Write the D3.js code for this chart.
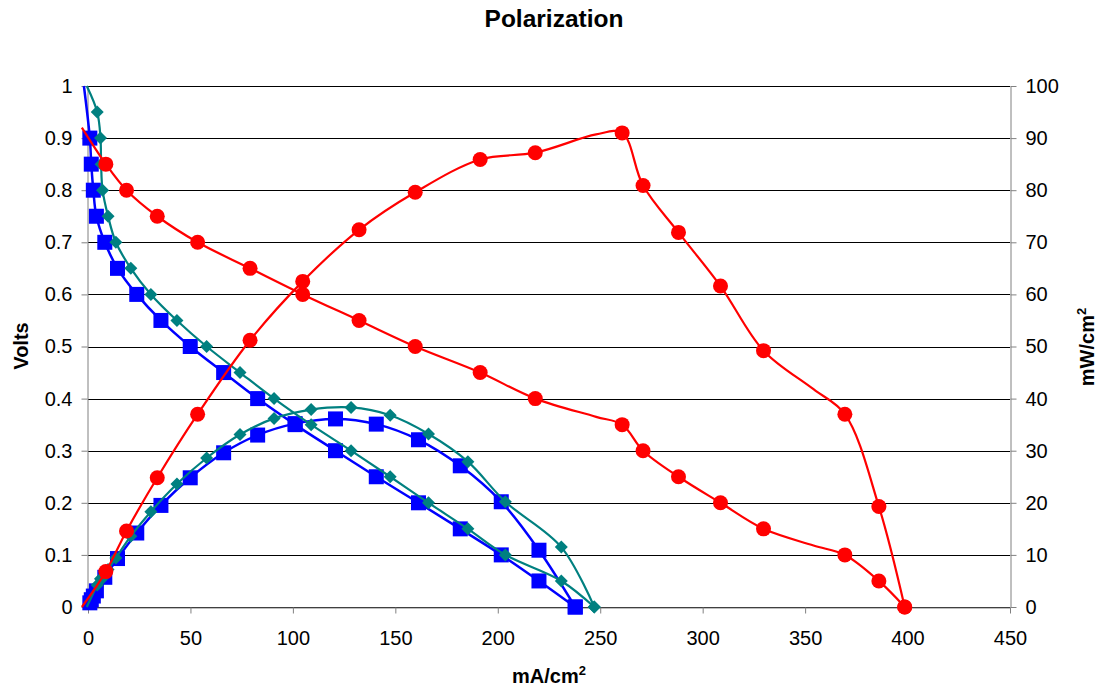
<!DOCTYPE html>
<html>
<head>
<meta charset="utf-8">
<script src="https://cdn.jsdelivr.net/npm/d3@7"></script>
<style>
  body { margin: 0; background: #fff; }
  svg { display: block; font-family: "Liberation Sans", Arial, sans-serif; }
</style>
</head>
<body>
<svg id="chart" width="1099" height="689"></svg>
<script>
// values
// blue (squares)
const blueCurrent = [-2, 0.9, 1.6, 2.6, 4.1, 8.2, 14.4, 23.8, 35.6, 49.9, 66.2, 82.8, 101.1, 120.8, 140.7, 161.3, 181.7, 201.7, 220.1, 237.8]
const blueVolts   = [1.0, 0.90, 0.85, 0.80, 0.75, 0.70, 0.65, 0.60, 0.55, 0.50, 0.45, 0.40, 0.35, 0.30, 0.25, 0.20, 0.15, 0.10, 0.05, 0]
const bluePower   = [0, 0.8, 1.4, 2.1, 3.1, 5.7, 9.3, 14.2, 19.5, 24.8, 29.6, 33.0, 35.2, 36.1, 35.1, 32.1, 27.1, 20.2, 10.9, 0]
const blueNoMarker = [0]

// teal (diamonds)
const tealCurrent = [-0.6, 4.5, 6.1, 6.4, 7.1, 9.8, 13.6, 20.9, 30.7, 43.4, 57.9, 74.2, 90.8, 108.9, 128.4, 147.5, 166.2, 185.4, 203.7, 231.0, 247.1]
const tealVolts   = [1.0, 0.95, 0.90, 0.85, 0.80, 0.75, 0.70, 0.65, 0.60, 0.55, 0.50, 0.45, 0.40, 0.35, 0.30, 0.25, 0.20, 0.15, 0.10, 0.05, 0]
const tealPower   = [0, 4.2, 5.4, 5.3, 5.6, 7.2, 9.4, 13.6, 18.3, 23.6, 28.6, 33.1, 36.2, 37.9, 38.3, 36.8, 33.2, 27.9, 20.2, 11.5, 0]
const tealNoMarker = [0]

// red (circles)
const redCurrent = [-3, 8.7, 18.8, 33.8, 53.5, 79.1, 104.8, 132.3, 159.7, 191.4, 218.3, 248, 260.7, 270.9, 288.2, 308.7, 329.7, 354.1, 369.4, 386.0, 398.6]
const redVolts   = [0.92, 0.85, 0.80, 0.75, 0.70, 0.65, 0.60, 0.55, 0.50, 0.45, 0.40, 0.365, 0.35, 0.30, 0.25, 0.20, 0.15, 0.118, 0.10, 0.05, 0]
const redPower   = [0, 6.8, 14.6, 24.8, 37.0, 51.2, 62.5, 72.4, 79.6, 85.9, 87.2, 90.7, 91.0, 80.9, 71.9, 61.6, 49.2, 41.8, 37.0, 19.3, 0]
const redNoMarker = [0, 11, 17]

// axes
const currentTicks = [0, 50, 100, 150, 200, 250, 300, 350, 400, 450]
const voltTicks = [0, 0.1, 0.2, 0.3, 0.4, 0.5, 0.6, 0.7, 0.8, 0.9, 1]
const voltLabels = ["0", "0.1", "0.2", "0.3", "0.4", "0.5", "0.6", "0.7", "0.8", "0.9", "1"]
const powerTicks = [0, 10, 20, 30, 40, 50, 60, 70, 80, 90, 100]

const chart = { left: 88, right: 1010, top: 86, bottom: 607 }

const svg = d3.select("#chart")

const x = d3.scaleLinear().domain([0, 450]).range([chart.left, chart.right])
const yV = d3.scaleLinear().domain([0, 1]).range([chart.bottom, chart.top])
const yP = d3.scaleLinear().domain([0, 100]).range([chart.bottom, chart.top])

const crisp = (v) => Math.round(v) + 0.5

// horizontal gridlines
svg.append("g")
  .selectAll("line")
  .data(voltTicks)
  .join("line")
  .attr("x1", chart.left)
  .attr("x2", chart.right)
  .attr("y1", (d) => crisp(yV(d)))
  .attr("y2", (d) => crisp(yV(d)))
  .attr("stroke", "#000")
  .attr("stroke-width", 1)

function styleAxis(g){
  g.selectAll("path.domain").attr("stroke", "#808080").attr("stroke-width", 1)
  g.selectAll(".tick line").attr("stroke", "#808080")
  g.selectAll(".tick text").attr("fill", "#000").attr("font-size", 20)
  g.attr("font-family", null)
}

svg.append("g")
  .attr("transform", `translate(${crisp(chart.left) - 1},0)`)
  .call(d3.axisLeft(yV).tickValues(voltTicks).tickSize(6).tickSizeOuter(0).tickPadding(9)
    .tickFormat((d, i) => voltLabels[i]))
  .call(styleAxis)

svg.append("g")
  .attr("transform", `translate(${crisp(chart.right)},0)`)
  .call(d3.axisRight(yP).tickValues(powerTicks).tickSize(6).tickSizeOuter(0).tickPadding(9))
  .call(styleAxis)

svg.append("g")
  .attr("transform", `translate(0,${crisp(chart.bottom)})`)
  .call(d3.axisBottom(x).tickValues(currentTicks).tickSize(6).tickSizeOuter(0).tickPadding(17))
  .call(styleAxis)

// series
const series = [
  { xs: blueCurrent, ys: blueVolts, y: yV, color: "#0000ff", shape: "square", skip: blueNoMarker, width: 2.5 },
  { xs: blueCurrent, ys: bluePower, y: yP, color: "#0000ff", shape: "square", skip: blueNoMarker, width: 2.5 },
  { xs: tealCurrent, ys: tealVolts, y: yV, color: "#008080", shape: "diamond", skip: tealNoMarker, width: 2.2 },
  { xs: tealCurrent, ys: tealPower, y: yP, color: "#008080", shape: "diamond", skip: tealNoMarker, width: 2.2 },
  { xs: redCurrent, ys: redVolts, y: yV, color: "#ff0000", shape: "circle", skip: redNoMarker, width: 2.2 },
  { xs: redCurrent, ys: redPower, y: yP, color: "#ff0000", shape: "circle", skip: redNoMarker, width: 2.2 },
]

const line = d3.line().curve(d3.curveCatmullRom.alpha(0.5))

series.forEach((s, k) => {
  const pts = s.xs.map((v, i) => [x(v), s.y(s.ys[i])])
  const g = svg.append("g").attr("class", `series${k}`)
  g.append("path")
    .attr("d", line(pts))
    .attr("fill", "none")
    .attr("stroke", s.color)
    .attr("stroke-width", s.width)
    .attr("stroke-linejoin", "round")

  const marked = pts.filter((p, i) => !s.skip.includes(i))
  if(s.shape === "square"){
    g.selectAll("rect")
      .data(marked)
      .join("rect")
      .attr("x", (d) => d[0] - 7.5)
      .attr("y", (d) => d[1] - 7.5)
      .attr("width", 15)
      .attr("height", 15)
      .attr("fill", s.color)
  }
  else if(s.shape === "diamond"){
    g.selectAll("path.marker")
      .data(marked)
      .join("path")
      .attr("class", "marker")
      .attr("d", (d) => `M${d[0]},${d[1] - 6.5}L${d[0] + 6.5},${d[1]}L${d[0]},${d[1] + 6.5}L${d[0] - 6.5},${d[1]}Z`)
      .attr("fill", s.color)
  }
  else{
    g.selectAll("circle")
      .data(marked)
      .join("circle")
      .attr("cx", (d) => d[0])
      .attr("cy", (d) => d[1])
      .attr("r", 7.5)
      .attr("fill", s.color)
  }
})

// titles
svg.append("text")
  .attr("x", 554)
  .attr("y", 27)
  .attr("text-anchor", "middle")
  .attr("font-size", 24.5)
  .attr("font-weight", "bold")
  .text("Polarization")

svg.append("text")
  .attr("transform", "translate(28,346) rotate(-90)")
  .attr("text-anchor", "middle")
  .attr("font-size", 20)
  .attr("font-weight", "bold")
  .text("Volts")

const xTitle = svg.append("text")
  .attr("x", 549)
  .attr("y", 683)
  .attr("text-anchor", "middle")
  .attr("font-size", 20)
  .attr("font-weight", "bold")
xTitle.append("tspan").text("mA/cm")
xTitle.append("tspan").attr("font-size", 13).attr("dy", -8).text("2")

const yTitle = svg.append("text")
  .attr("transform", "translate(1094,347) rotate(-90)")
  .attr("text-anchor", "middle")
  .attr("font-size", 20)
  .attr("font-weight", "bold")
yTitle.append("tspan").text("mW/cm")
yTitle.append("tspan").attr("font-size", 13).attr("dy", -8).text("2")
</script>
</body>
</html>
